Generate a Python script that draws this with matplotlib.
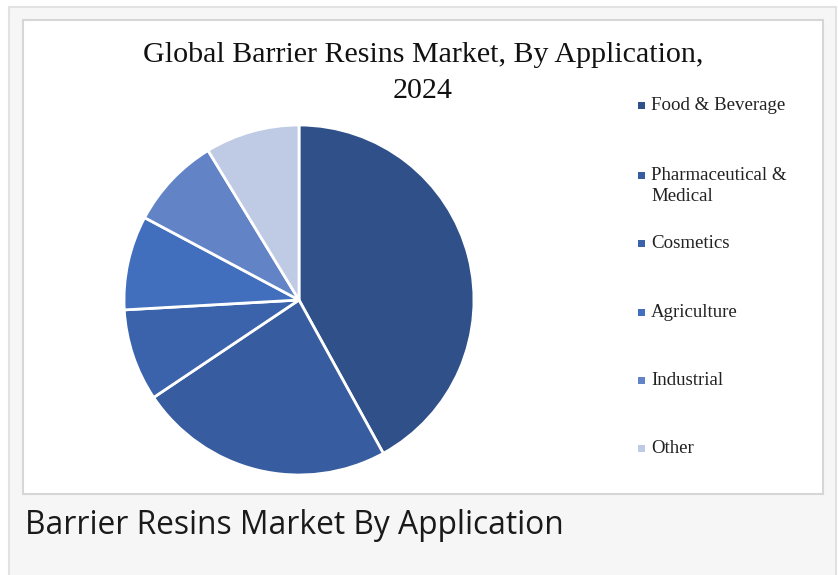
import matplotlib
matplotlib.use("Agg")
import matplotlib.pyplot as plt
from matplotlib.patches import Rectangle

# data (shares in %)
categories = ["Food & Beverage", "Pharmaceutical &\nMedical", "Cosmetics",
              "Agriculture", "Industrial", "Other"]
shares = [42.0, 23.6, 8.5, 8.7, 8.5, 8.7]
colors = ["#2F5089", "#375C9F", "#3B63AB", "#416FBD", "#6283C6", "#BFCAE4"]

W, H = 838, 575
fig = plt.figure(figsize=(W / 100, H / 100), dpi=100)
fig.patch.set_facecolor("white")

def px_rect(x0, y0, x1, y1, **kw):
    # rectangle given in pixel coords (top-left origin)
    return Rectangle((x0 / W, 1 - y1 / H), (x1 - x0) / W, (y1 - y0) / H,
                     transform=fig.transFigure, **kw)

# outer grey panel and inner white chart box (behind the axes)
fig.patches.append(px_rect(9, 7, 836, 580, facecolor="#f6f6f6", edgecolor="#e2e2e2",
                           linewidth=1.5, zorder=-3))
fig.patches.append(px_rect(23, 20, 823, 494, facecolor="white", edgecolor="#d6d6d6",
                           linewidth=1.5, zorder=-2))

# pie
cx, cy, r = 299, 300, 175
ax = fig.add_axes([(cx - r) / W, 1 - (cy + r) / H, 2 * r / W, 2 * r / H])
ax.patch.set_alpha(0)
ax.pie(shares, colors=colors, startangle=90, counterclock=False, radius=1,
       wedgeprops=dict(edgecolor="white", linewidth=2))
ax.set_xlim(-1.0, 1.0)
ax.set_ylim(-1.0, 1.0)
ax.set_aspect("auto")
ax.axis("off")

serif = "Liberation Serif"
fig.text(423 / W, 1 - 55 / H, "Global Barrier Resins Market, By Application,",
         ha="center", va="center", fontsize=21.6, family=serif, color="#111111")
fig.text(423 / W, 1 - 91 / H, "2024", ha="center", va="center",
         fontsize=21.6, family=serif, color="#111111")

# legend drawn by hand
leg_y = [105, 175, 243, 312, 380, 448]
for lab, col, y in zip(categories, colors, leg_y):
    fig.patches.append(px_rect(638, y - 3.5, 645, y + 3.5, facecolor=col, edgecolor="none"))
    fig.text(651 / W, 1 - (y - 8) / H, lab, ha="left", va="top", fontsize=13.6,
             family=serif, color="#222222", linespacing=1.3)

# caption under the chart
fig.text(25 / W, 1 - 525 / H, "Barrier Resins Market By Application",
         ha="left", va="center", fontsize=22.9, family="Open Sans", color="#1a1a1a")

fig.savefig("out.png", dpi=100)
